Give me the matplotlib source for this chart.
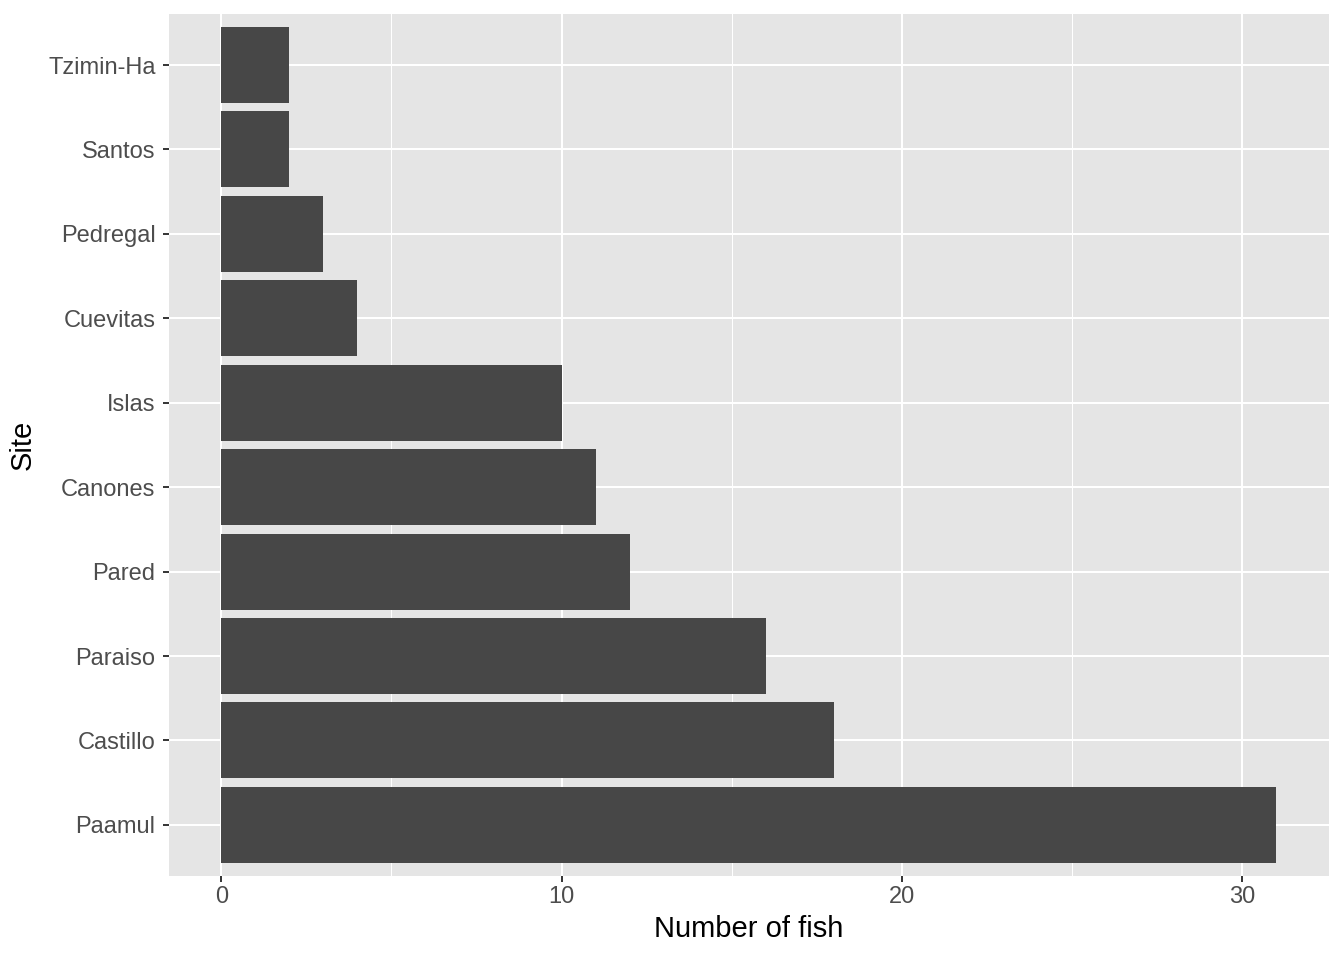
import matplotlib.pyplot as plt

plt.rcParams["font.family"] = ["Liberation Sans", "DejaVu Sans"]

# data
sites = ["Paamul", "Castillo", "Paraiso", "Pared", "Canones",
         "Islas", "Cuevitas", "Pedregal", "Santos", "Tzimin-Ha"]
fish_counts = [31, 18, 16, 12, 11, 10, 4, 3, 2, 2]

W, H = 1344, 960
left, right, top, bottom = 168.5, 1329, 14.4, 875.5

fig = plt.figure(figsize=(W / 100, H / 100), dpi=100)
ax = fig.add_axes([left / W, 1 - bottom / H, (right - left) / W, (bottom - top) / H])

ax.set_facecolor("#e5e5e5")
ypos = list(range(len(sites)))
ax.barh(ypos, fish_counts, height=0.9, color="#474747", zorder=3)

# ggplot-like expansion
ax.set_xlim(-0.05 * 31, 31 * 1.05)
ax.set_ylim(-0.6, len(sites) - 1 + 0.6)

ax.set_xticks([0, 10, 20, 30])
ax.set_xticks([5, 15, 25], minor=True)
ax.set_yticks(ypos)
ax.set_yticklabels(sites)

ax.grid(which="major", color="white", linewidth=1.45, zorder=1)
ax.grid(which="minor", axis="x", color="white", linewidth=0.75, zorder=1)

for s in ax.spines.values():
    s.set_visible(False)

ax.tick_params(which="major", length=4.3, width=1.4, color="#333333",
               labelcolor="#4d4d4d", labelsize=17)
ax.tick_params(axis="y", pad=5)
ax.tick_params(axis="x", pad=3.5)
ax.tick_params(which="minor", length=0)

ax.set_xlabel("Number of fish", fontsize=21, color="black", labelpad=5)
ax.set_ylabel("Site", fontsize=21, color="black", labelpad=8)

fig.savefig("out.png", dpi=100, facecolor="white")
